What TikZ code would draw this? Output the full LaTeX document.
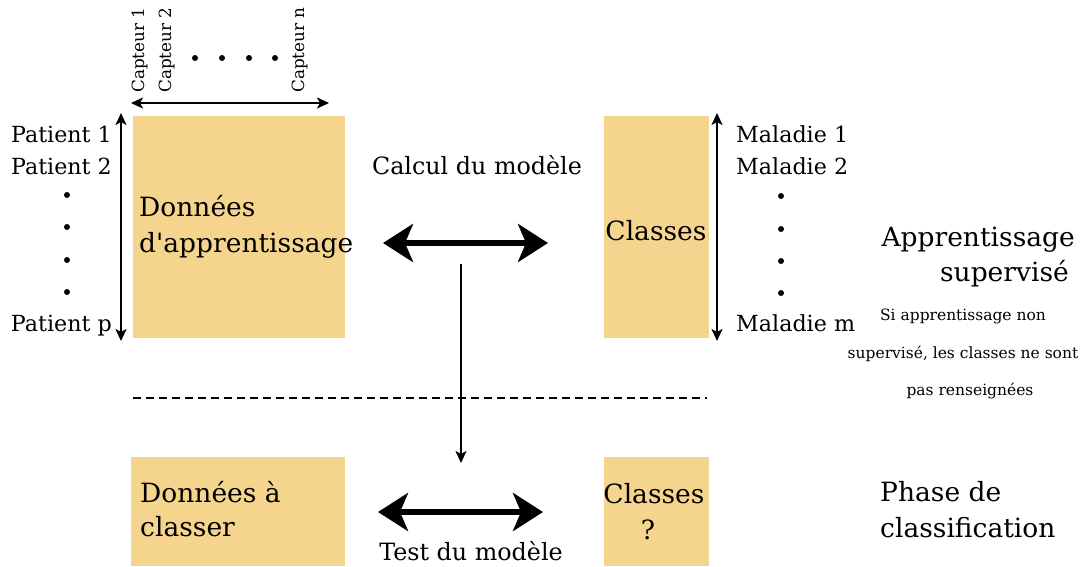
\documentclass[tikz,border=0pt]{standalone}
\usepackage{fontspec}
\setmainfont{DejaVu Serif}
\usetikzlibrary{arrows.meta}
\definecolor{boxc}{RGB}{245,213,142}
\begin{document}
\begin{tikzpicture}[x=1pt,y=-1pt,
  box/.style={fill=boxc,draw=none},
  big/.style={font=\fontsize{26.5}{30}\selectfont},
  mid/.style={font=\fontsize{22.2}{26}\selectfont},
  lab/.style={font=\fontsize{23.8}{28}\selectfont},
  sml/.style={font=\fontsize{15.5}{18}\selectfont},
  captxt/.style={font=\fontsize{16.8}{19}\selectfont,rotate=90,anchor=base west,inner sep=0pt},
  bdot/.style={circle,fill=black,inner sep=0pt,minimum size=6pt},
  fatarr/.style={line width=6pt,{Stealth[length=30pt,width=38pt,inset=8pt]}-{Stealth[length=30pt,width=38pt,inset=8pt]}},
  thinarr/.style={line width=2pt,{Stealth[length=12pt,width=11pt,inset=3pt]}-{Stealth[length=12pt,width=11pt,inset=3pt]}}]
\useasboundingbox (0,0) rectangle (1092,566);
% boxes
\fill[box] (133,116) rectangle (345,338) coordinate (b1);
\fill[box] (604,116) rectangle (709,338) coordinate (b2);
\fill[box] (131,457) rectangle (345,566) coordinate (b3);
\fill[box] (604,457) rectangle (709,566) coordinate (b4);
% box texts
\node[big,anchor=base west,inner sep=0pt] (d1) at (139,216) {Données};
\node[big,anchor=base west,inner sep=0pt] (d2) at (139,252) {d\textquotesingle apprentissage};
\node[big,anchor=base,inner sep=0pt] (c1) at (656,240) {Classes};
\node[big,anchor=base west,inner sep=0pt] (d3) at (140,502) {Données à};
\node[big,anchor=base west,inner sep=0pt] (d4) at (140,536) {classer};
\node[big,anchor=base,inner sep=0pt] (c2) at (654,503) {Classes};
\node[big,anchor=base,inner sep=0pt] (q) at (648,539) {?};
% capteurs
\node[captxt] (k1) at (144,93) {Capteur 1};
\node[captxt] (k2) at (171,93) {Capteur 2};
\node[captxt] (kn) at (304,93) {Capteur n};
\foreach \x/\n in {195/a,222/b,249/c,275/d} \node[bdot] (cd\n) at (\x,58) {};
\coordinate (cl) at (131,103); \coordinate (cr) at (329,103);
\draw[thinarr] (cl) -- (cr);
% patients
\node[mid,anchor=base east,inner sep=0pt] (p1) at (112,142) {Patient 1};
\node[mid,anchor=base east,inner sep=0pt] (p2) at (112,174) {Patient 2};
\node[mid,anchor=base east,inner sep=0pt] (pp) at (112,331) {Patient p};
\foreach \y/\n in {195/a,227/b,260/c,292/d} \node[bdot] (pd\n) at (67,\y) {};
\coordinate (pt) at (121,113); \coordinate (pb) at (121,341);
\draw[thinarr] (pt) -- (pb);
% maladies
\node[mid,anchor=base west,inner sep=0pt] (m1) at (736,142) {Maladie 1};
\node[mid,anchor=base west,inner sep=0pt] (m2) at (736,174) {Maladie 2};
\node[mid,anchor=base west,inner sep=0pt] (mm) at (736,331) {Maladie m};
\foreach \y/\n in {196/a,229/b,261/c,293/d} \node[bdot] (md\n) at (781,\y) {};
\coordinate (mt) at (717,113); \coordinate (mb) at (717,341);
\draw[thinarr] (mt) -- (mb);
% calcul
\node[lab,anchor=base,inner sep=0pt] (calc) at (477,174) {Calcul du modèle};
\coordinate (al) at (383,243); \coordinate (ar) at (548,243);
\draw[fatarr] (al) -- (ar);
\coordinate (vt) at (461,264); \coordinate (vb) at (461,463);
\draw[line width=2pt,-{Stealth[length=12pt,width=11pt,inset=3pt]}] (vt) -- (vb);
% dashed
\coordinate (dl) at (133,398); \coordinate (dr) at (707,398);
\draw[line width=2pt,dash pattern=on 8pt off 5pt] (dl) -- (dr);
% test
\coordinate (tl) at (378,512); \coordinate (tr) at (543,512);
\draw[fatarr] (tl) -- (tr);
\node[lab,anchor=base,inner sep=0pt] (test) at (471,560) {Test du modèle};
% right side
\node[big,anchor=base east,inner sep=0pt] (r1) at (1075,246) {Apprentissage};
\node[big,anchor=base east,inner sep=0pt] (r2) at (1069,281) {supervisé};
\node[sml,anchor=base,inner sep=0pt] (s1) at (963,320) {Si apprentissage non};
\node[sml,anchor=base,inner sep=0pt] (s2) at (963,358) {supervisé, les classes ne sont};
\node[sml,anchor=base,inner sep=0pt] (s3) at (970,395) {pas renseignées};
\node[big,anchor=base west,inner sep=0pt] (ph1) at (880,501) {Phase de};
\node[big,anchor=base west,inner sep=0pt] (ph2) at (880,537) {classification};
\end{tikzpicture}
\end{document}
